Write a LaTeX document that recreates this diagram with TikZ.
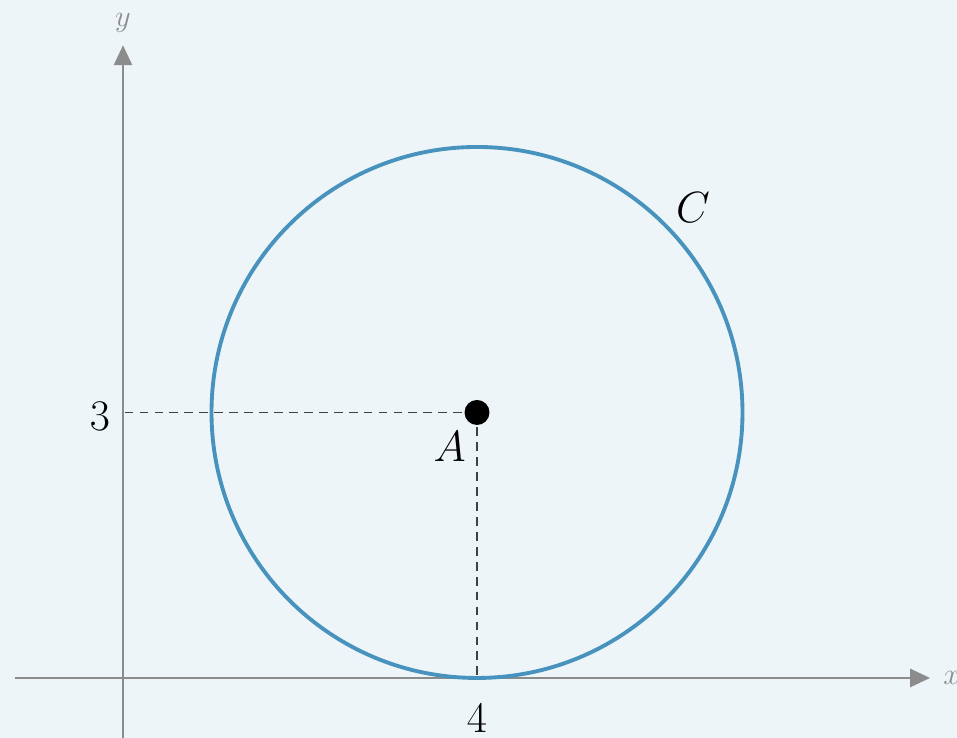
\documentclass[tikz,border=0pt]{standalone}
\usetikzlibrary{arrows.meta,positioning}
\definecolor{paper}{RGB}{238,245,248}
\definecolor{axisgray}{RGB}{140,140,140}
\definecolor{circblue}{RGB}{72,146,190}

\begin{document}
\begin{tikzpicture}[
  x=1.77cm, y=1.77cm,
  axis/.style={-{Triangle[length=4mm, width=3.6mm]}, line width=1.6pt, draw=axisgray},
  guide/.style={dashed, line width=1.1pt, draw=black!75, dash pattern=on 5pt off 3.5pt},
  curve/.style={line width=2.2pt, draw=circblue},
  lbl/.style={font=\fontsize{24}{28}\selectfont},
  axlbl/.style={font=\fontsize{17}{20}\selectfont, text=black!45}
]
% frame
\fill[paper] (-1.39,-0.678) rectangle (9.424,7.661);
\useasboundingbox (-1.39,-0.678) rectangle (9.424,7.661);

% axes
\coordinate (xl) at (-1.22,0);
\coordinate (xr) at (9.12,0);
\coordinate (yb) at (0,-0.7);
\coordinate (yt) at (0,7.15);
\draw[axis] (xl) -- (xr);
\draw[axis] (yb) -- (yt);
\node[axlbl, anchor=west] (xlab) at (9.2,0) {$x$};
\node[axlbl] (ylab) at (0,7.40) {$y$};

% circle C
\coordinate (A) at (4,3);
\draw[curve] (A) circle[radius=3];
\node[lbl] (clab) at (6.44,5.31) {$C$};

% projections
\coordinate (Ay) at (0,3);
\coordinate (Ax) at (4,0);
\draw[guide] (A) -- (Ay);
\draw[guide] (A) -- (Ax);
\node[lbl] (three) at (-0.26,2.95) {$3$};
\node[lbl] (four) at (4,-0.46) {$4$};

% centre
\fill (A) circle[radius=0.25cm];
\node[lbl] (alab) at (3.69,2.62) {$A$};
\end{tikzpicture}
\end{document}
